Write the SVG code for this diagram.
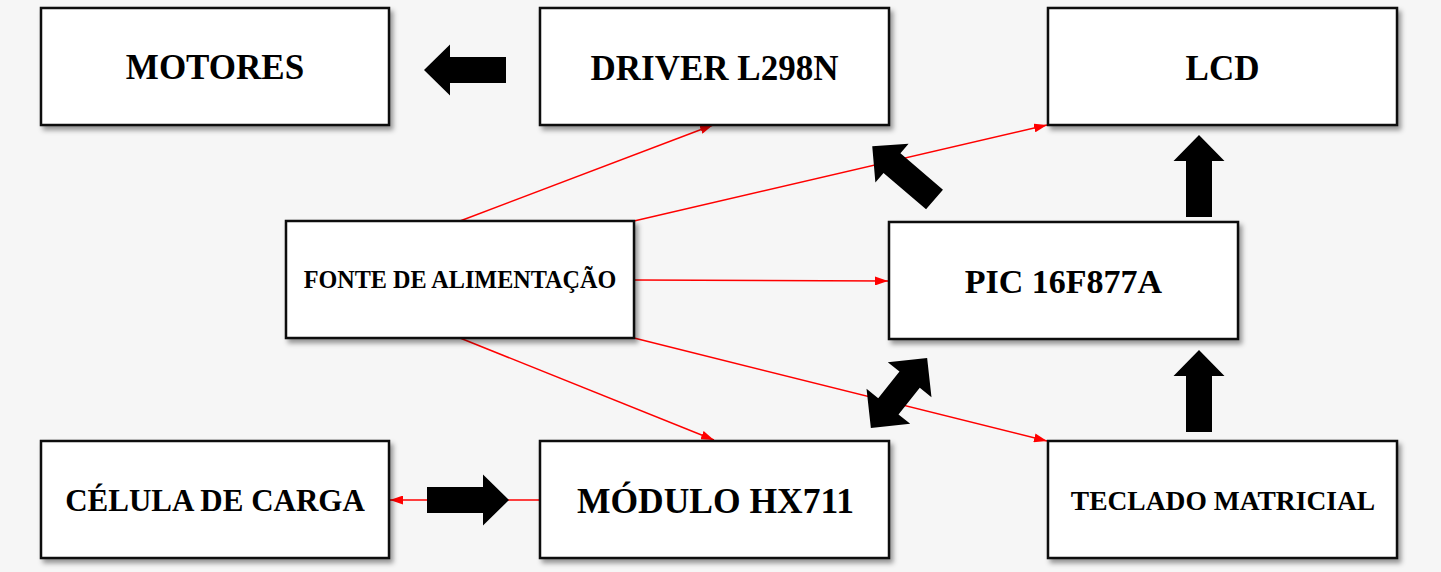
<svg xmlns="http://www.w3.org/2000/svg" width="1441" height="572" viewBox="0 0 1441 572">
<style>
.box{fill:#ffffff;stroke:#111111;stroke-width:2.5;filter:url(#sh)}
.lbl{font-family:"Liberation Serif","Times New Roman",serif;font-weight:bold;fill:#000000;text-anchor:middle}
.red{stroke:#ff0000;stroke-width:1.5;fill:none;marker-end:url(#ah)}
.blk{fill:#000000}
</style>
<defs>
<filter id="sh" x="-10%" y="-10%" width="125%" height="130%">
<feDropShadow dx="3" dy="4" stdDeviation="2.5" flood-color="#000000" flood-opacity="0.4"/>
</filter>
<marker id="ah" markerUnits="userSpaceOnUse" markerWidth="13" markerHeight="9" refX="13" refY="4.5" orient="auto">
<path d="M0,0 L13,4.5 L0,9 Z" fill="#ff0000"/>
</marker>
<path id="ba" d="M0,-13 L56,-13 L56,-25.5 L82,0 L56,25.5 L56,13 L0,13 Z"/>
</defs>
<rect x="0" y="0" width="1441" height="572" fill="#f6f6f6"/>
<g id="connectors">
<line class="red" x1="460" y1="221" x2="713" y2="125"/>
<line class="red" x1="634" y1="221" x2="1047" y2="125"/>
<line class="red" x1="634" y1="280" x2="888" y2="281"/>
<line class="red" x1="460" y1="338" x2="714" y2="440"/>
<line class="red" x1="634" y1="338" x2="1047" y2="441"/>
<line class="red" x1="540" y1="500" x2="390" y2="500"/>
<use href="#ba" class="blk" transform="translate(506,70) rotate(180)"/>
<use href="#ba" class="blk" transform="translate(934.5,199.5) rotate(220.6)"/>
<use href="#ba" class="blk" transform="translate(1199,217) rotate(-90)"/>
<use href="#ba" class="blk" transform="translate(1199,432) rotate(-90)"/>
<use href="#ba" class="blk" transform="translate(427,500)"/>
<path class="blk" transform="translate(899,393) rotate(-51.3)" d="M-45,0 L-17,-28 L-17,-13 L17,-13 L17,-28 L45,0 L17,28 L17,13 L-17,13 L-17,28 Z"/>
</g>
<g id="motores">
<rect class="box" x="41" y="8" width="348" height="117"/>
<text class="lbl" x="215" y="79" font-size="35">MOTORES</text>
</g>
<g id="driver">
<rect class="box" x="540" y="8" width="349" height="117"/>
<text class="lbl" x="714.5" y="80" font-size="35">DRIVER L298N</text>
</g>
<g id="lcd">
<rect class="box" x="1048" y="8" width="349" height="117"/>
<text class="lbl" x="1222.5" y="80" font-size="35">LCD</text>
</g>
<g id="fonte">
<rect class="box" x="286" y="221" width="348" height="117"/>
<text class="lbl" x="460" y="288" font-size="24.2">FONTE DE ALIMENTAÇÃO</text>
</g>
<g id="pic">
<rect class="box" x="889" y="222" width="349" height="117"/>
<text class="lbl" x="1063.5" y="293" font-size="34">PIC 16F877A</text>
</g>
<g id="celula">
<rect class="box" x="41" y="441" width="348" height="117"/>
<text class="lbl" x="215" y="511" font-size="31">CÉLULA DE CARGA</text>
</g>
<g id="modulo">
<rect class="box" x="540" y="441" width="349" height="117"/>
<text class="lbl" x="715.5" y="513" font-size="35.5">MÓDULO HX711</text>
</g>
<g id="teclado">
<rect class="box" x="1048" y="441" width="349" height="117"/>
<text class="lbl" x="1223" y="510" font-size="27.5">TECLADO MATRICIAL</text>
</g>
</svg>
